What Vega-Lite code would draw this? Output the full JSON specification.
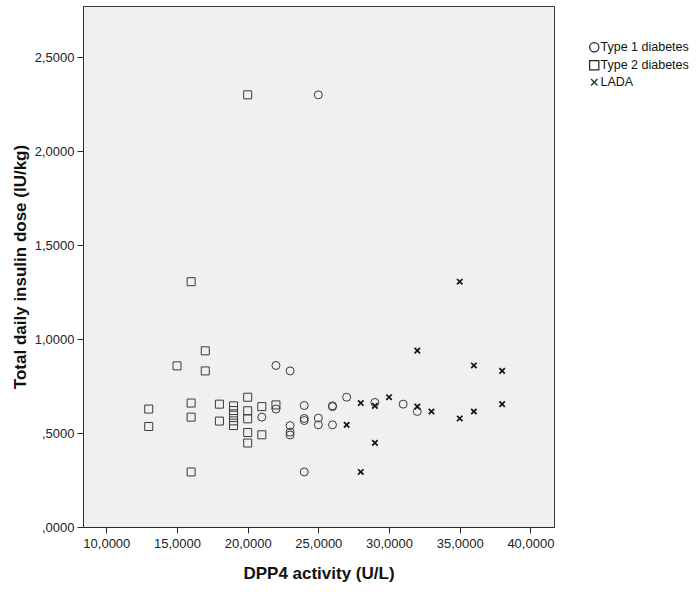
{
  "$schema": "https://vega.github.io/schema/vega-lite/v6.json",
  "autosize": "none",
  "width": 471,
  "height": 521,
  "padding": {"left": 83, "top": 6, "right": 145, "bottom": 65},
  "background": "white",
  "config": {
    "font": "Liberation Sans",
    "view": {"fill": "#f0f0f0", "stroke": "#3a3a3a", "strokeWidth": 1},
    "axis": {
      "grid": false,
      "domainColor": "#2a2a2a",
      "tickColor": "#2a2a2a",
      "tickSize": 6,
      "labelFontSize": 13,
      "labelColor": "#222",
      "labelFont": "Liberation Sans",
      "titleFont": "Liberation Sans",
      "titleFontSize": 17,
      "titleFontWeight": "bold",
      "titleColor": "#111"
    }
  },
  "data": {
    "values": [
      {"dpp4": 13, "dose": 0.628, "group": "Type 2 diabetes"},
      {"dpp4": 13, "dose": 0.535, "group": "Type 2 diabetes"},
      {"dpp4": 15, "dose": 0.858, "group": "Type 2 diabetes"},
      {"dpp4": 16, "dose": 1.306, "group": "Type 2 diabetes"},
      {"dpp4": 16, "dose": 0.66, "group": "Type 2 diabetes"},
      {"dpp4": 16, "dose": 0.585, "group": "Type 2 diabetes"},
      {"dpp4": 16, "dose": 0.293, "group": "Type 2 diabetes"},
      {"dpp4": 17, "dose": 0.938, "group": "Type 2 diabetes"},
      {"dpp4": 17, "dose": 0.831, "group": "Type 2 diabetes"},
      {"dpp4": 18, "dose": 0.654, "group": "Type 2 diabetes"},
      {"dpp4": 18, "dose": 0.564, "group": "Type 2 diabetes"},
      {"dpp4": 19, "dose": 0.645, "group": "Type 2 diabetes"},
      {"dpp4": 19, "dose": 0.62, "group": "Type 2 diabetes"},
      {"dpp4": 19, "dose": 0.595, "group": "Type 2 diabetes"},
      {"dpp4": 19, "dose": 0.565, "group": "Type 2 diabetes"},
      {"dpp4": 19, "dose": 0.54, "group": "Type 2 diabetes"},
      {"dpp4": 20, "dose": 2.301, "group": "Type 2 diabetes"},
      {"dpp4": 20, "dose": 0.691, "group": "Type 2 diabetes"},
      {"dpp4": 20, "dose": 0.619, "group": "Type 2 diabetes"},
      {"dpp4": 20, "dose": 0.576, "group": "Type 2 diabetes"},
      {"dpp4": 20, "dose": 0.503, "group": "Type 2 diabetes"},
      {"dpp4": 20, "dose": 0.447, "group": "Type 2 diabetes"},
      {"dpp4": 21, "dose": 0.641, "group": "Type 2 diabetes"},
      {"dpp4": 21, "dose": 0.491, "group": "Type 2 diabetes"},
      {"dpp4": 22, "dose": 0.65, "group": "Type 2 diabetes"},
      {"dpp4": 25, "dose": 2.301, "group": "Type 1 diabetes"},
      {"dpp4": 21, "dose": 0.585, "group": "Type 1 diabetes"},
      {"dpp4": 22, "dose": 0.86, "group": "Type 1 diabetes"},
      {"dpp4": 22, "dose": 0.628, "group": "Type 1 diabetes"},
      {"dpp4": 23, "dose": 0.831, "group": "Type 1 diabetes"},
      {"dpp4": 23, "dose": 0.54, "group": "Type 1 diabetes"},
      {"dpp4": 23, "dose": 0.505, "group": "Type 1 diabetes"},
      {"dpp4": 23, "dose": 0.49, "group": "Type 1 diabetes"},
      {"dpp4": 24, "dose": 0.647, "group": "Type 1 diabetes"},
      {"dpp4": 24, "dose": 0.578, "group": "Type 1 diabetes"},
      {"dpp4": 24, "dose": 0.567, "group": "Type 1 diabetes"},
      {"dpp4": 24, "dose": 0.293, "group": "Type 1 diabetes"},
      {"dpp4": 25, "dose": 0.58, "group": "Type 1 diabetes"},
      {"dpp4": 25, "dose": 0.544, "group": "Type 1 diabetes"},
      {"dpp4": 26, "dose": 0.641, "group": "Type 1 diabetes"},
      {"dpp4": 26, "dose": 0.645, "group": "Type 1 diabetes"},
      {"dpp4": 26, "dose": 0.544, "group": "Type 1 diabetes"},
      {"dpp4": 27, "dose": 0.691, "group": "Type 1 diabetes"},
      {"dpp4": 29, "dose": 0.663, "group": "Type 1 diabetes"},
      {"dpp4": 31, "dose": 0.654, "group": "Type 1 diabetes"},
      {"dpp4": 32, "dose": 0.615, "group": "Type 1 diabetes"},
      {"dpp4": 27, "dose": 0.544, "group": "LADA"},
      {"dpp4": 28, "dose": 0.66, "group": "LADA"},
      {"dpp4": 28, "dose": 0.293, "group": "LADA"},
      {"dpp4": 29, "dose": 0.645, "group": "LADA"},
      {"dpp4": 29, "dose": 0.448, "group": "LADA"},
      {"dpp4": 30, "dose": 0.691, "group": "LADA"},
      {"dpp4": 32, "dose": 0.939, "group": "LADA"},
      {"dpp4": 32, "dose": 0.641, "group": "LADA"},
      {"dpp4": 33, "dose": 0.615, "group": "LADA"},
      {"dpp4": 35, "dose": 1.306, "group": "LADA"},
      {"dpp4": 35, "dose": 0.578, "group": "LADA"},
      {"dpp4": 36, "dose": 0.86, "group": "LADA"},
      {"dpp4": 36, "dose": 0.615, "group": "LADA"},
      {"dpp4": 38, "dose": 0.831, "group": "LADA"},
      {"dpp4": 38, "dose": 0.654, "group": "LADA"}
    ]
  },
  "encoding": {
    "x": {
      "field": "dpp4",
      "type": "quantitative",
      "scale": {"domain": [8.35, 41.67], "nice": false, "zero": false},
      "axis": {
        "title": "DPP4 activity (U/L)",
        "values": [10, 15, 20, 25, 30, 35, 40],
        "labelExpr": "replace(format(datum.value, '.4f'), '.', ',')",
        "labelPadding": 4,
        "titlePadding": 15
      }
    },
    "y": {
      "field": "dose",
      "type": "quantitative",
      "scale": {"domain": [0, 2.774], "nice": false},
      "axis": {
        "title": "Total daily insulin dose (IU/kg)",
        "values": [0, 0.5, 1, 1.5, 2, 2.5],
        "labelExpr": "datum.value < 1 ? replace(format(datum.value, '.4f'), '0.', ',') : replace(format(datum.value, '.4f'), '.', ',')",
        "labelPadding": 3,
        "titlePadding": 5
      }
    },
    "shape": {
      "field": "group",
      "type": "nominal",
      "scale": {
        "domain": ["Type 1 diabetes", "Type 2 diabetes", "LADA"],
        "range": ["circle", "square", "M-0.7,-0.7L0.7,0.7M-0.7,0.7L0.7,-0.7"]
      },
      "legend": {
        "title": null,
        "orient": "none",
        "legendX": 505,
        "legendY": 35,
        "labelFontSize": 12.5,
        "labelFont": "Liberation Sans",
        "labelColor": "#111",
        "symbolSize": 85,
        "symbolStrokeColor": "#222",
        "symbolStrokeWidth": 1.2,
        "symbolFillColor": "transparent",
        "rowPadding": 3,
        "labelOffset": 0
      }
    }
  },
  "layer": [
    {
      "transform": [{"filter": "datum.group != 'LADA'"}],
      "mark": {"type": "point", "filled": false, "strokeWidth": 1, "size": 64, "color": "#3a3a3a", "opacity": 1}
    },
    {
      "transform": [{"filter": "datum.group == 'LADA'"}],
      "mark": {"type": "point", "filled": false, "strokeWidth": 1.7, "size": 60, "color": "#111", "opacity": 1}
    }
  ]
}
